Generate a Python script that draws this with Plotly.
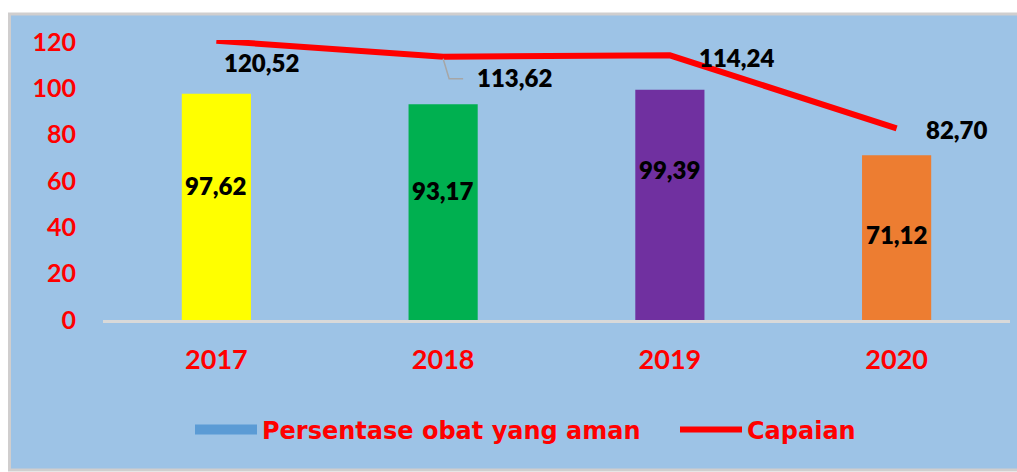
import plotly.graph_objects as go

# ---- data ----
years = ["2017", "2018", "2019", "2020"]
persentase = [97.62, 93.17, 99.39, 71.12]
capaian = [120.52, 113.62, 114.24, 82.70]
bar_colors = ["#FFFF00", "#00B050", "#7030A0", "#ED7D31"]
y_ticks = [0, 20, 40, 60, 80, 100, 120]
y_tick_text = ["0", "20", "40", "60", "80", "100", "120"]

# ---- styling ----
BG = "#9DC3E6"
RED = "#FF0000"
W, H = 1017, 472
ML, MR, MT, MB = 103, 7, 40, 152
FONT = "Lato"
LEG_FONT = "DejaVu Sans"

def fmt(v):
    return f"{v:.2f}".replace(".", ",")

def px_x(p):
    return (p - ML) / (W - ML - MR)

def px_y(p):
    return (H - MB - p) / (H - MT - MB)

fig = go.Figure()

fig.add_trace(go.Bar(
    x=years, y=persentase, width=0.305,
    marker=dict(color=bar_colors, line=dict(width=0)),
    showlegend=False, hoverinfo="skip",
))
# legend entry for the bar series (default series colour, drawn as a wide block)
fig.add_trace(go.Scatter(
    x=[None], y=[None], mode="lines", name="Persentase obat yang aman",
    line=dict(color="#5B9BD5", width=14), showlegend=True, legend="legend",
    hoverinfo="skip",
))
fig.add_trace(go.Scatter(
    x=years, y=capaian, mode="lines", name="Capaian",
    line=dict(color=RED, width=6), cliponaxis=False, hoverinfo="skip",
    legend="legend2",
))

label_font = dict(family=FONT, size=24, color="black", weight=800)

# bar labels (manually placed in the source chart); x given as category index
bar_label_shift = [-92, -86, -80, -79]
for i, (v, s) in enumerate(zip(persentase, bar_label_shift)):
    fig.add_annotation(x=i, y=v, text=fmt(v), showarrow=False,
                       yshift=s, font=label_font)

# line labels
line_label_shift = [(45, -22), (71, -21), (67, -2), (60, -1)]
for i, (v, sh) in enumerate(zip(capaian, line_label_shift)):
    fig.add_annotation(x=i, y=v, text=fmt(v), showarrow=False,
                       xshift=sh[0], yshift=sh[1], font=label_font)

# elbow leader line for the 2018 label
fig.add_shape(type="path", xref="x", yref="y",
              xsizemode="pixel", ysizemode="pixel",
              xanchor=1, yanchor=capaian[1],
              path="M0,-2 L6,-22 L20,-22",
              line=dict(color="#A6A6A6", width=1.5), layer="above")

# chart frame (background block with light border)
fig.add_shape(type="rect", xref="paper", yref="paper",
              x0=px_x(9.5), x1=px_x(1025), y0=px_y(14), y1=px_y(470),
              fillcolor=BG, line=dict(color="#D0CECE", width=3), layer="below")

leg_common = dict(orientation="h", xanchor="left", yanchor="middle",
                  bgcolor="rgba(0,0,0,0)",
                  font=dict(family=LEG_FONT, size=24, color=RED, weight=700))

fig.update_layout(
    width=W, height=H,
    margin=dict(l=ML, r=MR, t=MT, b=MB, autoexpand=False),
    paper_bgcolor="white",
    plot_bgcolor="rgba(0,0,0,0)",
    legend=dict(x=px_x(190), y=px_y(430), itemwidth=62, **leg_common),
    legend2=dict(x=px_x(675), y=px_y(430), itemwidth=62, **leg_common),
    xaxis=dict(type="category", range=[-0.5, len(years) - 0.5],
               showline=True, linecolor="#D9D9D9", linewidth=2.5,
               showgrid=False, zeroline=False, ticks="",
               ticklabelstandoff=14,
               tickfont=dict(family=FONT, size=27, color=RED, weight=700)),
    yaxis=dict(range=[0, 120.85], tickvals=y_ticks, ticktext=y_tick_text,
               showline=False, showgrid=False, zeroline=False, ticks="",
               ticklabelstandoff=26,
               tickfont=dict(family=FONT, size=25, color=RED, weight=700)),
)

fig.write_html("out.html", config={"displayModeBar": False},
               post_script="document.body.style.margin='0';")
